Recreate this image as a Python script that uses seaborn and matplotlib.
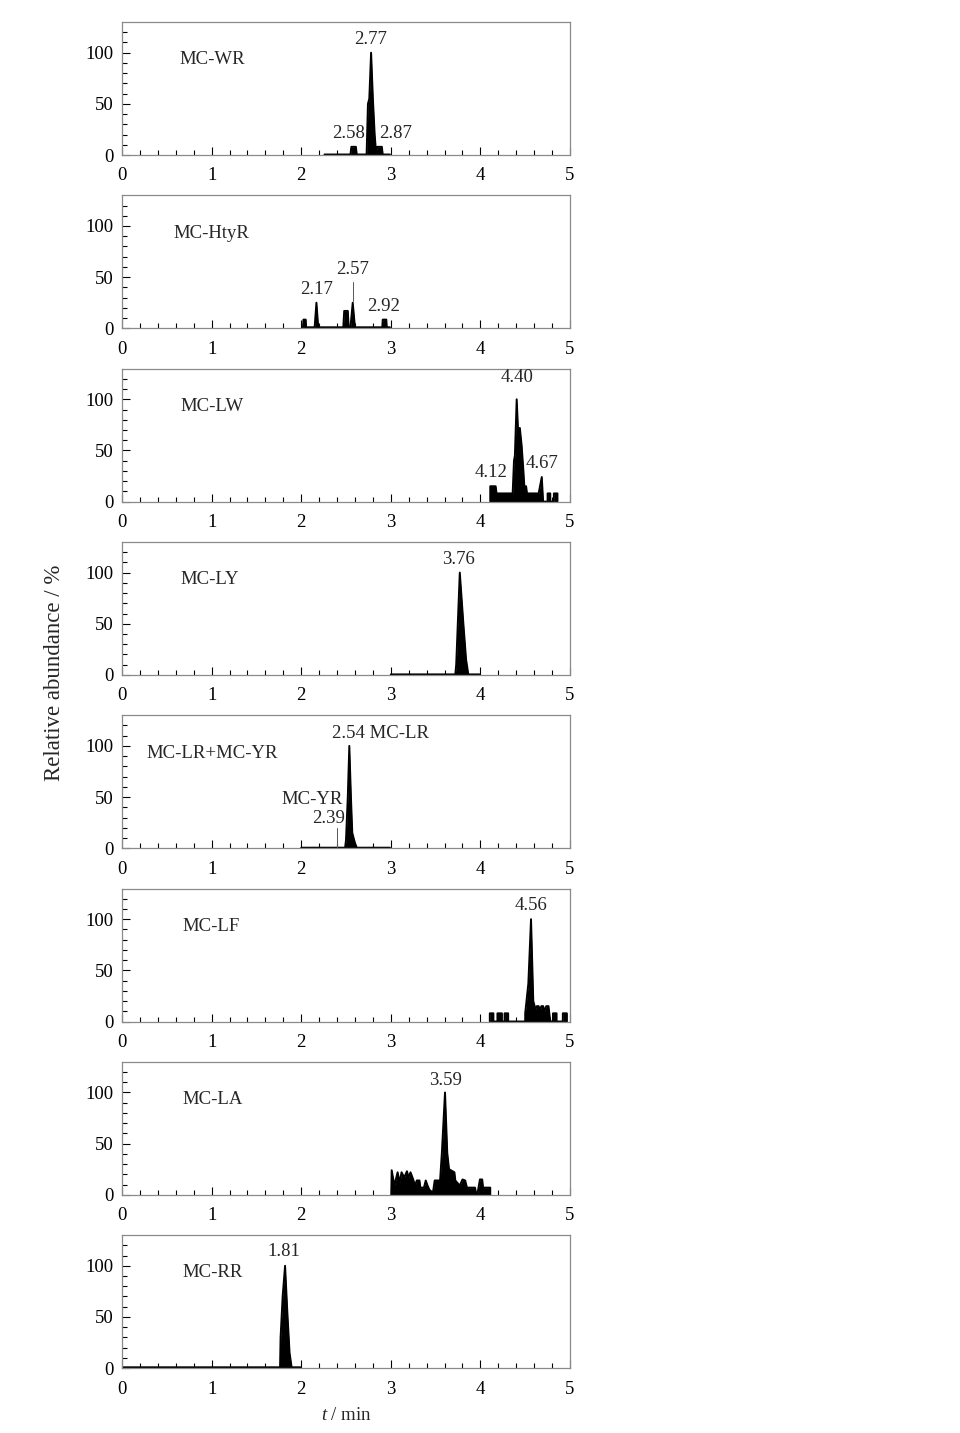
import numpy as np
import matplotlib
matplotlib.use("Agg")
import matplotlib.pyplot as plt
import seaborn as sns

sns.set_style("ticks")
plt.rcParams["font.family"] = ["Liberation Serif", "DejaVu Serif"]
plt.rcParams["mathtext.fontset"] = "custom"
plt.rcParams["mathtext.rm"] = "Liberation Serif"
plt.rcParams["mathtext.it"] = "Liberation Serif:italic"

# --- chromatogram traces (time in min, relative abundance in %) ---
wr_t = [2.26, 2.55, 2.56, 2.61, 2.62, 2.73, 2.745, 2.76, 2.78, 2.80, 2.82, 2.835, 2.85, 2.90, 2.91, 2.99]
wr_y = [0.5, 0.5, 8, 8, 0.5, 0.5, 50, 55, 100, 55, 20, 3, 8, 8, 0.5, 0.5]

htyr_t = [2.01, 2.02, 2.025, 2.05, 2.055, 2.15, 2.17, 2.19, 2.47, 2.48, 2.52, 2.53, 2.55, 2.575, 2.60, 2.905, 2.91, 2.95, 2.955, 2.99]
htyr_y = [1, 1, 8.5, 8.5, 1, 1, 25, 1, 1, 17, 17, 1, 1, 25, 1, 1, 8.5, 8.5, 1, 1]

lw_t = [4.11, 4.11, 4.17, 4.18, 4.36, 4.375, 4.385, 4.405, 4.42, 4.44, 4.46, 4.48, 4.49, 4.51, 4.52, 4.65, 4.685, 4.70, 4.75, 4.75, 4.78, 4.78, 4.82, 4.82, 4.86, 4.86]
lw_y = [0, 15, 15, 8, 8, 40, 45, 100, 70, 72, 55, 30, 15, 15, 8, 8, 24, 0, 0, 8, 8, 0, 0, 8, 8, 0]

ly_t = [3.0, 3.72, 3.73, 3.77, 3.81, 3.84, 3.865, 3.99]
ly_y = [0.5, 0.5, 10, 100, 50, 15, 0.5, 0.5]

lr_t = [2.0, 2.49, 2.50, 2.52, 2.537, 2.555, 2.57, 2.60, 2.62, 2.99]
lr_y = [0.5, 0.5, 8, 50, 100, 50, 15, 5, 0.5, 0.5]

lf_t = [4.105, 4.105, 4.145, 4.145, 4.19, 4.19, 4.24, 4.24, 4.27, 4.27, 4.31, 4.31,
        4.50, 4.50, 4.535, 4.565, 4.59, 4.615, 4.63, 4.65, 4.665, 4.68, 4.70, 4.715, 4.735, 4.76, 4.78,
        4.81, 4.81, 4.85, 4.85, 4.92, 4.92, 4.965, 4.965]
lf_y = [0, 8, 8, 0, 0, 8, 8, 0, 0, 8, 8, 0,
        0, 8, 37, 100, 20, 12, 15, 15, 10, 15, 15, 10, 15, 15, 0,
        0, 8, 8, 0, 0, 8, 8, 0]

la_t = [3.005, 3.01, 3.04, 3.076, 3.10, 3.12, 3.15, 3.18, 3.20, 3.22, 3.25, 3.27, 3.29, 3.32, 3.33,
        3.37, 3.39, 3.41, 3.43, 3.47, 3.49, 3.55, 3.57, 3.605, 3.63, 3.65, 3.71, 3.72, 3.77, 3.80,
        3.83, 3.85, 3.94, 3.955, 3.965, 3.995, 4.02, 4.03, 4.11, 4.11]
la_y = [0, 24, 9, 22, 12, 22, 17, 23, 17, 22, 15, 9, 14, 14, 7,
        7, 14, 9, 5, 2, 14, 14, 41, 100, 41, 25, 22, 14, 9, 15,
        14, 7, 7, 0, 0, 15, 15, 7, 7, 0]

rr_t = [0.0, 1.764, 1.77, 1.793, 1.82, 1.845, 1.87, 1.893, 1.99]
rr_y = [0.8, 0.8, 30, 70, 100, 55, 15, 0.8, 0.8]

names = ["MC-WR", "MC-HtyR", "MC-LW", "MC-LY", "MC-LR+MC-YR", "MC-LF", "MC-LA", "MC-RR"]
name_x = [0.64, 0.57, 0.65, 0.65, 0.27, 0.68, 0.67, 0.67]
traces = [(wr_t, wr_y), (htyr_t, htyr_y), (lw_t, lw_y), (ly_t, ly_y),
          (lr_t, lr_y), (lf_t, lf_y), (la_t, la_y), (rr_t, rr_y)]

# peak labels: (text, x, y) per panel
peak_labels = [
    [("2.77", 2.77, 113), ("2.58", 2.53, 21), ("2.87", 3.05, 21)],
    [("2.17", 2.17, 38), ("2.57", 2.575, 57), ("2.92", 2.92, 21)],
    [("4.40", 4.405, 121), ("4.12", 4.115, 28), ("4.67", 4.684, 37)],
    [("3.76", 3.76, 113)],
    [("2.54 MC-LR", 2.89, 112), ("MC-YR", 2.12, 48), ("2.39", 2.30, 29)],
    [("4.56", 4.565, 113)],
    [("3.59", 3.605, 112)],
    [("1.81", 1.81, 114)],
]
# thin leader lines (panel, x, y0, y1)
leaders = [(1, 2.575, 27, 45), (4, 2.40, 0, 20)]

fs = 13.5
fig = plt.figure(figsize=(9.6, 14.33), dpi=100)
W, H = 960, 1433
axes = []
for i in range(8):
    top = 22 + 173.3 * i
    ax = fig.add_axes([122 / W, 1 - (top + 133) / H, 448 / W, 133 / H])
    axes.append(ax)
    t, y = traces[i]
    ax.fill_between(t, 0, y, color="black", linewidth=0)
    sns.lineplot(x=t, y=y, ax=ax, color="black", linewidth=1.4, estimator=None, sort=False)
    ax.set_xlim(0, 5)
    ax.set_ylim(0, 130)
    ax.set_xticks([0, 1, 2, 3, 4, 5])
    ax.set_xticks(np.arange(0, 5.01, 0.2), minor=True)
    ax.set_yticks([0, 50, 100])
    ax.set_yticks(np.arange(0, 130, 10), minor=True)
    ax.tick_params(which="both", direction="in", colors="black", labelsize=fs)
    ax.tick_params(which="major", length=6, width=0.8)
    ax.tick_params(which="minor", length=3.5, width=0.8)
    ax.tick_params(axis="x", pad=9)
    ax.tick_params(axis="y", pad=6)
    for s in ax.spines.values():
        s.set_color("#8a8a8a")
        s.set_linewidth(0.9)
    ax.set_xlabel("")
    ax.set_ylabel("")
    ax.text(name_x[i], 93, names[i], fontsize=fs, ha="left", va="center")
    for txt, lx, ly in peak_labels[i]:
        ax.text(lx, ly, txt, fontsize=fs, ha="center", va="center")

for p, lx, y0, y1 in leaders:
    axes[p].plot([lx, lx], [y0, y1], color="#555555", linewidth=0.7)

fig.text(55 / W, 1 - 673 / H, "Relative abundance / %", rotation=90,
         fontsize=16.5, ha="center", va="center")
fig.text(346 / W, 1 - 1416 / H, r"$\mathit{t}$ / min", fontsize=fs, ha="center", va="center")

fig.savefig("out.png", dpi=100)
